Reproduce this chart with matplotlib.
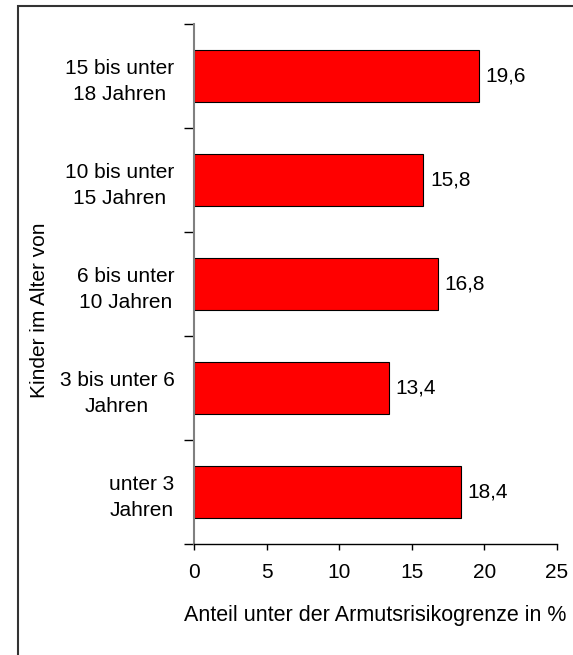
import numpy as np
import matplotlib.pyplot as plt
from matplotlib.patches import Rectangle

plt.rcParams['font.family'] = ['Liberation Sans', 'DejaVu Sans']

# data, bottom to top
groups = ['unter 3\nJahren', '3 bis unter 6\nJahren', '6 bis unter\n10 Jahren',
          '10 bis unter\n15 Jahren', '15 bis unter\n18 Jahren']
shares = [18.4, 13.4, 16.8, 15.8, 19.6]
xticks = [0, 5, 10, 15, 20, 25]

fig = plt.figure(figsize=(5.73, 6.55), dpi=100)
ax = fig.add_axes([194/573, 1-544/655, 363/573, 520/655])

fs = 15
pos = np.arange(len(groups))
ax.barh(pos, shares, height=0.5, color='#ff0000', edgecolor='black', linewidth=0.8)
for y, v in zip(pos, shares):
    ax.text(v + 0.45, y, f'{v:.1f}'.replace('.', ','), va='center', ha='left', fontsize=fs)

ax.set_xlim(0, 25)
ax.set_ylim(-0.5, len(groups) - 0.5)
ax.set_xticks(xticks)
ax.set_xticklabels([str(t) for t in xticks], fontsize=fs)
ax.tick_params(axis='x', direction='out', length=4, width=1, pad=10)

# category boundaries carry the ticks, names sit between them
ax.set_yticks(np.arange(-0.5, len(groups), 1.0))
ax.set_yticklabels([])
ax.set_yticks(pos, minor=True)
ax.set_yticklabels(groups, minor=True, fontsize=fs, multialignment='center', linespacing=1.45)
ax.tick_params(axis='y', which='major', direction='out', length=7, width=1)
ax.tick_params(axis='y', which='minor', length=0, pad=14)

for s in ['top', 'right']:
    ax.spines[s].set_visible(False)
ax.spines['left'].set_color('#808080')
ax.spines['left'].set_linewidth(1.5)
ax.spines['bottom'].set_color('black')
ax.spines['bottom'].set_linewidth(1)

ax.set_xlabel('Anteil unter der Armutsrisikogrenze in %', fontsize=15.5, labelpad=16)
fig.text(40/573, 1-310/655, 'Kinder im Alter von', rotation=90, fontsize=fs,
         ha='center', va='center')

# outer frame running off the right and bottom edges
fig.patches.append(Rectangle((18/573, -0.1), 1.2, 1 - 6/655 + 0.1, transform=fig.transFigure,
                             fill=False, edgecolor='#333333', linewidth=1.5))

fig.savefig('out.png', dpi=100)
